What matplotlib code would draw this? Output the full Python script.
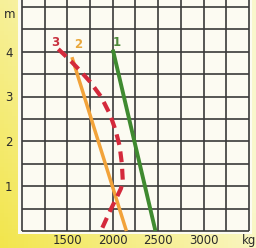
import numpy as np
import matplotlib.pyplot as plt

# line 1 (green), line 2 (orange), line 3 (red dashed): load kg vs height m
kg_1 = [2000, 2470]
m_1 = [4.05, 0.0]
kg_2 = [1550, 2150]
m_2 = [3.88, 0.0]
kg_3 = [1400, 1510, 1630, 1750, 1870, 1970, 2030, 2075, 2100, 2110, 2090, 2050, 1970, 1880]
m_3 = [4.06, 3.85, 3.60, 3.33, 3.00, 2.60, 2.25, 1.90, 1.50, 1.12, 0.95, 0.78, 0.45, 0.05]

x_ticks = [1500, 2000, 2500, 3000, 3500]
x_labels = ['1500', '2000', '2500', '3000', 'kg']
y_ticks = [1, 2, 3, 4]

fig = plt.figure(figsize=(2.56, 2.48), dpi=100)

# yellow paper background, stronger at the bottom left
bg = fig.add_axes([0, 0, 1, 1])
gx, gy = np.meshgrid(np.linspace(0, 1, 64), np.linspace(0, 1, 64))
t = np.clip(1 - 0.9 * gx - 0.6 * gy, 0, 1)
pale = np.array([0.98, 0.97, 0.80])
strong = np.array([0.95, 0.90, 0.30])
img = pale + (strong - pale) * t[..., None]
bg.imshow(img, origin='lower', extent=[0, 1, 0, 1], aspect='auto')
bg.axis('off')

ax = fig.add_axes([18 / 256, 14 / 248, 234 / 256, 234 / 248])
ax.set_facecolor('#fcfbf2')
ax.set_xlim(956, 3533)
ax.set_ylim(-0.067, 5.156)

grid_c = '#3a3a3a'
ax.vlines(np.arange(1000, 3501, 250), 0, 5.3, color=grid_c, lw=1.2, zorder=1)
ax.hlines(np.arange(0, 5.01, 0.5), 1000, 3500, color=grid_c, lw=1.2, zorder=1)

ax.plot(kg_1, m_1, color='#3f8a30', lw=2.8, solid_capstyle='butt', zorder=3)
ax.plot(kg_2, m_2, color='#f2a33a', lw=2.5, solid_capstyle='butt', zorder=3)
ax.plot(kg_3, m_3, color='#d42a3c', lw=3.0, dashes=(2.6, 1.6), zorder=4)

ax.text(1365, 4.2, '3', color='#c8313f', fontsize=8.5, fontweight='bold', ha='center', va='center')
ax.text(1615, 4.17, '2', color='#e9a83c', fontsize=8.5, fontweight='bold', ha='center', va='center')
ax.text(2045, 4.2, '1', color='#4f8a3c', fontsize=8.5, fontweight='bold', ha='center', va='center')

for x, lab in zip(x_ticks, x_labels):
    ax.text(x, -0.22, lab, fontsize=8.5, color='#2a2a2a', ha='center', va='center', clip_on=False)
for y in y_ticks:
    ax.text(855, y - 0.03, str(y), fontsize=8.5, color='#2a2a2a', ha='center', va='center', clip_on=False)
ax.text(860, 4.84, 'm', fontsize=8.5, color='#2a2a2a', ha='center', va='center', clip_on=False)

for s in ax.spines.values():
    s.set_visible(False)
ax.set_xticks([])
ax.set_yticks([])

fig.savefig('out.png', dpi=100)
